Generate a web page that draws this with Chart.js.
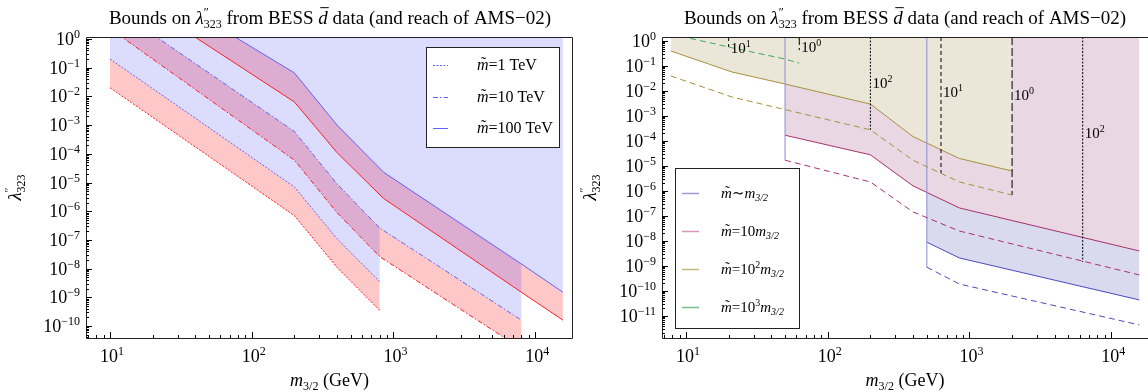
<!DOCTYPE html>
<html>
<head>
<meta charset="utf-8">
<script src="https://cdn.jsdelivr.net/npm/chart.js@4.4.1/dist/chart.umd.min.js"></script>
<style>
  html, body { margin: 0; padding: 0; background: #fff; }
  #wrap { position: relative; width: 1148px; height: 392px; overflow: hidden; }
  canvas { position: absolute; top: 0; }
  #c1 { left: 0; }
  #c2 { left: 575px; }
</style>
</head>
<body>
<div id="wrap">
  <canvas id="c1" width="580" height="392"></canvas>
  <canvas id="c2" width="573" height="392"></canvas>
</div>
<script>
// ---- left panel: BESS bound (blue) and AMS-02 reach (red) for three squark masses
const mass1TeV = [10, 200, 400, 800];
const bess1TeV = [0.2, 7e-6, 1.1e-7, 3.5e-9];
const ams1TeV = [0.02, 7e-7, 1.1e-8, 3.5e-10];

const mass10TeV = [10, 200, 400, 800, 8000];
const bess10TeV = [15, 6e-4, 8.9e-6, 2.6e-7, 1.6e-10];
const ams10TeV = [2.3, 6e-5, 8.9e-7, 2.6e-8, 1.6e-11];

const mass100TeV = [10, 200, 400, 850, 8000, 15700];
const bess100TeV = [500, 0.066, 1e-3, 2.3e-5, 1.45e-8, 1.5e-9];
const ams100TeV = [100, 6.4e-3, 1.1e-4, 2.8e-6, 1.5e-9, 1.6e-10];

const leftLegend = ['=1 TeV', '=10 TeV', '=100 TeV'];

// ---- right panel: bound (solid) and reach (dashed) for m~ = m3/2 ... 10^3 m3/2
const massBlue = [500, 850, 15800];
const boundBlue = [9e-9, 2.1e-9, 4.4e-11];
const reachBlue = [9e-10, 1.9e-10, 4.4e-12];

const massMagenta = [50, 200, 400, 850, 15800];
const boundMagenta = [1.7e-4, 2.8e-5, 1.6e-6, 2.1e-7, 4e-9];
const reachMagenta = [1.7e-5, 2.3e-6, 1.45e-7, 2.5e-8, 4.4e-10];

const massOlive = [7.8, 21, 50, 200, 400, 850, 2000];
const boundOlive = [0.4, 0.058, 0.019, 3e-3, 1.5e-4, 2e-5, 6.3e-6];
const reachOlive = [0.04, 5.8e-3, 1.8e-3, 2.8e-4, 1.7e-5, 2.3e-6, 6.9e-7];

const massGreen = [7.8, 21, 50, 63];
const boundGreen = [20, 5, 1.8, 1.3];
const reachGreen = [1.9, 0.54, 0.19, 0.13];

// vertical contour markers (labelled 10^n) in the right panel
const markerMass = [20, 63, 200, 630, 2000, 6300];
const markerFloor = [0.57, 0.43, 2.8e-4, 5.2e-6, 6.9e-7, 1.45e-9];
const markerExp = ['1', '0', '2', '1', '0', '2'];
const markerLabelY = [0.33, 0.36, 0.013, 5.8e-3, 4.4e-3, 1.3e-4];

// legend of the right panel: factor in front of m3/2
const rightLegend = ['', '10', '10', '10'];
const rightLegendExp = ['', '', '2', '3'];

// tick labels (powers of ten)
const xTickExp = [1, 2, 3, 4];
const leftYTickExp = [0, -1, -2, -3, -4, -5, -6, -7, -8, -9, -10];
const rightYTickExp = [0, -1, -2, -3, -4, -5, -6, -7, -8, -9, -10, -11];

// ---------------------------------------------------------------------------
const SERIF = '"Liberation Serif", "DejaVu Serif", serif';
const dotted = [2, 1.5];
const dashDot = [5, 2, 1.5, 2];
const dashed = [6, 4];

function pts(xs, ys) {
    return xs.map((x, k) => ({ x: x, y: ys[k] }));
}

function setFont(ctx, size, italic) {
    ctx.font = (italic ? 'italic ' : '') + size + 'px ' + SERIF;
}

function partWidth(ctx, p) {
    if (p.up !== undefined) {
        setFont(ctx, p.s, false);
        return Math.max(ctx.measureText(p.up).width, ctx.measureText(p.down || '').width);
    }
    setFont(ctx, p.s, p.i);
    return ctx.measureText(p.t).width;
}

// draws a row of text pieces (italics, sub/superscripts, bar, tilde)
function drawRich(ctx, parts, x, y, align) {
    const ws = parts.map(p => partWidth(ctx, p));
    const total = ws.reduce((a, b) => a + b, 0);
    let cx = align === 'center' ? x - total / 2 : (align === 'right' ? x - total : x);
    ctx.textAlign = 'left';
    ctx.textBaseline = 'alphabetic';
    parts.forEach((p, k) => {
        if (p.up !== undefined) {
            setFont(ctx, p.s, false);
            ctx.fillText(p.up, cx, y - p.s * 0.7);
            if (p.down) ctx.fillText(p.down, cx, y + p.s * 0.35);
        } else {
            setFont(ctx, p.s, p.i);
            ctx.fillText(p.t, cx, y + (p.dy || 0));
            if (p.bar) {
                ctx.save();
                ctx.lineWidth = 1;
                ctx.beginPath();
                ctx.moveTo(cx + 2, y - p.s * 0.86);
                ctx.lineTo(cx + ws[k] + 1, y - p.s * 0.86);
                ctx.stroke();
                ctx.restore();
            }
            if (p.tilde) {
                const tw = ctx.measureText('\u02dc').width;
                setFont(ctx, p.s, false);
                ctx.fillText('\u02dc', cx + ws[k] / 2 - tw / 2 + 1, y - p.s * 0.12);
            }
        }
        cx += ws[k];
    });
    return total;
}

function expText(e) {
    return e < 0 ? '\u2212' + (-e) : String(e);
}

const titleParts = [
    { t: 'Bounds on ', s: 19 },
    { t: '\u03bb', s: 19, i: true },
    { up: '\u2033', down: '323', s: 12 },
    { t: ' from BESS ', s: 19 },
    { t: 'd', s: 19, i: true, bar: true },
    { t: ' data (and reach of AMS\u221202)', s: 19 }
];

const xLabelParts = [
    { t: 'm', s: 18, i: true },
    { t: '3/2', s: 12, dy: 4 },
    { t: ' (GeV)', s: 18 }
];

const yLabelParts = [
    { t: '\u03bb', s: 19, i: true },
    { up: '\u2033', down: '323', s: 12 }
];

// frame, ticks, labels, title and legend drawn on top of the library's scales
const decor = {
    id: 'decor',
    afterDraw(chart, args, o) {
        const ctx = chart.ctx;
        const a = chart.chartArea;
        const sx = chart.scales.x;
        const sy = chart.scales.y;
        ctx.save();
        ctx.fillStyle = '#000';
        ctx.strokeStyle = '#222';
        ctx.lineWidth = 1;

        // frame
        const L = a.left + 0.5, R = a.right - 0.5, T = a.top + 0.5, B = a.bottom + 0.5;
        ctx.beginPath();
        ctx.moveTo(L, T); ctx.lineTo(L, B); ctx.lineTo(o.frameRight ? R : a.right + 2, B);
        ctx.moveTo(L, T); ctx.lineTo(o.frameRight ? R : a.right + 2, T);
        if (o.frameRight) { ctx.moveTo(R, T); ctx.lineTo(R, B); }
        ctx.stroke();

        // minor + major ticks
        ctx.strokeStyle = '#000';
        ctx.beginPath();
        const yLo = Math.floor(Math.log10(sy.min)), yHi = Math.ceil(Math.log10(sy.max));
        for (let e = yLo; e <= yHi; e++) {
            for (let k = 1; k < 10; k++) {
                const v = k * Math.pow(10, e);
                if (v < sy.min || v > sy.max) continue;
                const py = Math.round(sy.getPixelForValue(v)) + 0.5;
                ctx.moveTo(a.left, py);
                ctx.lineTo(a.left + (k === 1 ? 6 : 3), py);
            }
        }
        const xLo = Math.floor(Math.log10(sx.min)), xHi = Math.ceil(Math.log10(sx.max));
        for (let e = xLo; e <= xHi; e++) {
            for (let k = 1; k < 10; k++) {
                const v = k * Math.pow(10, e);
                if (v < sx.min || v > sx.max) continue;
                const px = Math.round(sx.getPixelForValue(v)) + 0.5;
                ctx.moveTo(px, a.bottom);
                ctx.lineTo(px, a.bottom - (k === 1 ? 6 : 3));
            }
        }
        ctx.stroke();

        // tick labels
        o.yTicks.forEach(e => {
            const py = sy.getPixelForValue(Math.pow(10, e));
            drawRich(ctx, [{ t: '10', s: 18 }, { t: expText(e), s: 12, dy: -7 }], a.left - 6, py + 6, 'right');
        });
        xTickExp.forEach(e => {
            const px = sx.getPixelForValue(Math.pow(10, e));
            drawRich(ctx, [{ t: '10', s: 18 }, { t: expText(e), s: 12, dy: -7 }], px + 2, 362, 'center');
        });

        // axis titles
        const midX = (a.left + Math.min(a.right, ctx.canvas.width)) / 2;
        drawRich(ctx, xLabelParts, o.frameRight ? (a.left + a.right) / 2 : midX, 386, 'center');
        ctx.save();
        ctx.translate(21, (a.top + a.bottom) / 2);
        ctx.rotate(-Math.PI / 2);
        drawRich(ctx, yLabelParts, 0, 0, 'center');
        ctx.restore();

        // title
        drawRich(ctx, titleParts, 330, 24, 'center');

        if (o.legend) o.legend(ctx, chart);
        ctx.restore();
    }
};

function lineSet(data, color, dash, extra) {
    return Object.assign({
        data: data,
        borderColor: color,
        borderWidth: 1,
        borderDash: dash,
        pointRadius: 0,
        tension: 0,
        fill: false
    }, extra || {});
}

// ---------------------------------------------------------------------------
// left panel
const blueLine = '#6060ff';
const redLine = '#ff2020';
const lavender = 'rgba(0, 0, 255, 0.137)';
const pink = 'rgba(255, 0, 0, 0.216)';

// lower edge of the BESS excluded region: 1 TeV curve, then 10 TeV, then 100 TeV
const lastOf = arr => arr[arr.length - 1];
const envelope = pts(mass1TeV, bess1TeV)
    .concat(pts(mass10TeV, bess10TeV).filter(p => p.x >= lastOf(mass1TeV)))
    .concat(pts(mass100TeV, bess100TeV).filter(p => p.x >= lastOf(mass10TeV)));

function leftLegendDraw(ctx) {
    ctx.save();
    ctx.fillStyle = '#fff';
    ctx.fillRect(426, 47, 133, 100);
    ctx.strokeStyle = '#222';
    ctx.lineWidth = 1;
    ctx.strokeRect(426.5, 47.5, 133, 100);
    const styles = [dotted, dashDot, []];
    const ys = [65, 97, 128];
    ctx.fillStyle = '#000';
    leftLegend.forEach((txt, k) => {
        ctx.strokeStyle = blueLine;
        ctx.setLineDash(styles[k]);
        ctx.beginPath();
        ctx.moveTo(433, ys[k] + 0.5);
        ctx.lineTo(448, ys[k] + 0.5);
        ctx.stroke();
        ctx.setLineDash([]);
        drawRich(ctx, [{ t: 'm', s: 16, i: true, tilde: true }, { t: txt, s: 16 }], 477, ys[k] + 5, 'left');
    });
    ctx.restore();
}

new Chart(document.getElementById('c1'), {
    type: 'line',
    data: {
        datasets: [
            { data: envelope, borderColor: 'rgba(0,0,0,0)', borderWidth: 1, pointRadius: 0, tension: 0, backgroundColor: lavender, fill: 'end' },
            lineSet(pts(mass1TeV, bess1TeV), blueLine, dotted),
            lineSet(pts(mass1TeV, ams1TeV), redLine, dotted, { fill: '-1', backgroundColor: pink }),
            lineSet(pts(mass10TeV, bess10TeV), blueLine, dashDot),
            lineSet(pts(mass10TeV, ams10TeV), redLine, dashDot, { fill: '-1', backgroundColor: pink }),
            lineSet(pts(mass100TeV, bess100TeV), blueLine, []),
            lineSet(pts(mass100TeV, ams100TeV), redLine, [], { fill: '-1', backgroundColor: pink })
        ]
    },
    options: {
        responsive: false,
        animation: false,
        layout: { padding: { left: 86, right: 7, top: 37, bottom: 54 } },
        scales: {
            x: { type: 'logarithmic', min: 6.77, max: 18500, bounds: 'data', display: false },
            y: { type: 'logarithmic', min: 3.82e-11, max: 1.174, bounds: 'data', display: false }
        },
        plugins: {
            legend: { display: false },
            tooltip: { enabled: false },
            filler: { drawTime: 'beforeDatasetsDraw' },
            decor: { frameRight: true, yTicks: leftYTickExp, legend: leftLegendDraw }
        }
    },
    plugins: [decor]
});

// ---------------------------------------------------------------------------
// right panel
const rightYMax = 1.445;
const cBlue = '#4a4ac0';
const cMagenta = '#a8306e';
const cOlive = '#a8903c';
const cGreen = '#3caa5a';
const legendColors = ['#9a9ad8', '#d896ba', '#c8b878', '#78c08c'];

function rightLegendDraw(ctx) {
    ctx.save();
    ctx.fillStyle = '#fff';
    ctx.fillRect(100, 168, 124, 160);
    ctx.strokeStyle = '#222';
    ctx.lineWidth = 1;
    ctx.strokeRect(100.5, 168.5, 124, 160);
    const ys = [193, 231, 269, 307];
    ctx.fillStyle = '#000';
    rightLegend.forEach((f, k) => {
        ctx.strokeStyle = legendColors[k];
        ctx.lineWidth = 1.5;
        ctx.beginPath();
        ctx.moveTo(107, ys[k] + 0.5);
        ctx.lineTo(124, ys[k] + 0.5);
        ctx.stroke();
        const parts = [{ t: 'm', s: 15, i: true, tilde: true }, { t: k === 0 ? '\u223c' : '=', s: 15 }];
        if (f) parts.push({ t: f, s: 15 });
        if (rightLegendExp[k]) parts.push({ t: rightLegendExp[k], s: 10, dy: -6 });
        parts.push({ t: 'm', s: 15, i: true }, { t: '3/2', s: 10, i: true, dy: 3 });
        drawRich(ctx, parts, 146, ys[k] + 5, 'left');
    });
    ctx.restore();
}

function markerDraw(ctx, chart) {
    const sx = chart.scales.x, sy = chart.scales.y;
    ctx.save();
    ctx.fillStyle = '#000';
    markerMass.forEach((m, k) => {
        const px = sx.getPixelForValue(m) + 2;
        const py = sy.getPixelForValue(markerLabelY[k]);
        drawRich(ctx, [{ t: '10', s: 15 }, { t: markerExp[k], s: 10, dy: -6 }], px, py, 'left');
    });
    ctx.restore();
    rightLegendDraw(ctx);
}

const markerDash = { '2': [2, 1.5], '1': [4, 3], '0': [8, 3] };
const markerSets = markerMass.map((m, k) =>
    lineSet([{ x: m, y: rightYMax }, { x: m, y: markerFloor[k] }], '#000', markerDash[markerExp[k]], { order: 0 }));

new Chart(document.getElementById('c2'), {
    type: 'line',
    data: {
        datasets: [
            // fills: blue bottom, then magenta, olive, green on top
            lineSet(pts(massBlue, boundBlue), cBlue, [], { fill: 'end', backgroundColor: '#dadaee', order: 4 }),
            lineSet(pts(massMagenta, boundMagenta), cMagenta, [], { fill: 'end', backgroundColor: '#e9d7e3', order: 3 }),
            lineSet(pts(massOlive, boundOlive), cOlive, [], { fill: 'end', backgroundColor: '#eae6d8', order: 2 }),
            lineSet(pts(massGreen, boundGreen), cGreen, [], { fill: 'end', backgroundColor: '#d9ecdc', order: 1 }),
            lineSet(pts(massBlue, reachBlue), cBlue, dashed, { order: 0 }),
            lineSet(pts(massMagenta, reachMagenta), cMagenta, dashed, { order: 0 }),
            lineSet(pts(massOlive, reachOlive), cOlive, dashed, { order: 0 }),
            lineSet(pts(massGreen, reachGreen), cGreen, dashed, { order: 0 }),
            // lavender edges where the blue and magenta regions start
            lineSet([{ x: massMagenta[0], y: rightYMax }, { x: massMagenta[0], y: reachMagenta[0] }], 'rgba(150,150,215,0.75)', [], { borderWidth: 1.5, order: 0 }),
            lineSet([{ x: massBlue[0], y: rightYMax }, { x: massBlue[0], y: reachBlue[0] }], 'rgba(150,150,215,0.75)', [], { borderWidth: 1.5, order: 0 })
        ].concat(markerSets)
    },
    options: {
        responsive: false,
        animation: false,
        layout: { padding: { left: 87, right: 0, top: 37, bottom: 54 } },
        scales: {
            x: { type: 'logarithmic', min: 6.77, max: 18200, bounds: 'data', display: false },
            y: { type: 'logarithmic', min: 1.32e-12, max: rightYMax, bounds: 'data', display: false }
        },
        plugins: {
            legend: { display: false },
            tooltip: { enabled: false },
            filler: { drawTime: 'beforeDatasetsDraw' },
            decor: { frameRight: false, yTicks: rightYTickExp, legend: markerDraw }
        }
    },
    plugins: [decor]
});
</script>
</body>
</html>
